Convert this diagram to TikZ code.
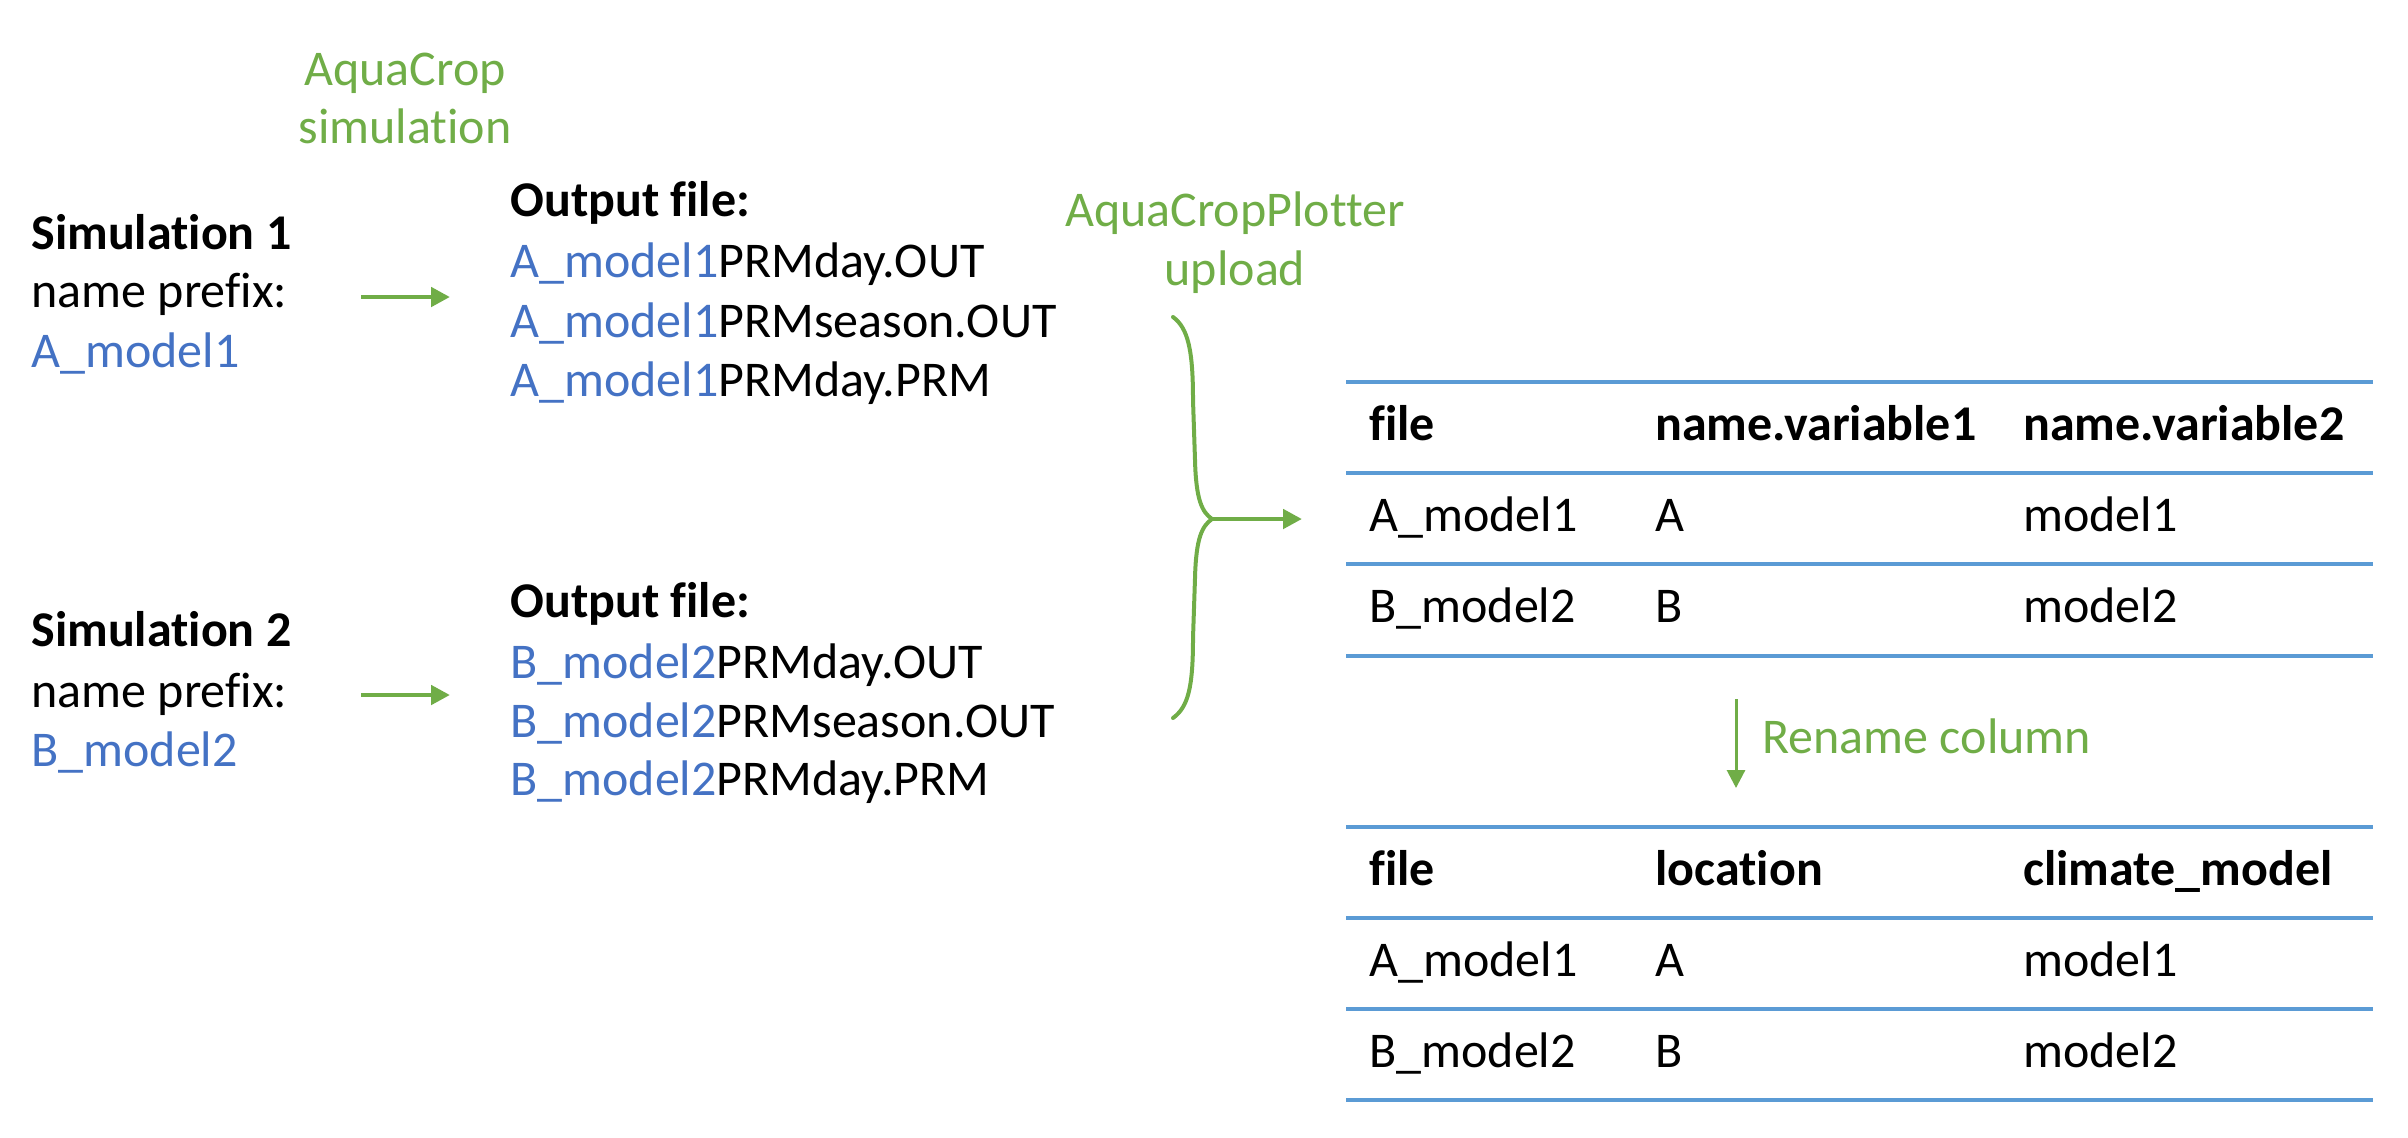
\documentclass[tikz,border=0pt]{standalone}
\usepackage{fontspec}
\setmainfont{Carlito}[Ligatures=NoCommon]
\usetikzlibrary{arrows.meta}
\definecolor{ogreen}{HTML}{70AD47}
\definecolor{oblue}{HTML}{4472C4}
\definecolor{lblue}{HTML}{5B9BD5}
\begin{document}
\begin{tikzpicture}[x=0.5pt,y=-0.5pt,
  txt/.style={anchor=base west,inner sep=0pt,font=\fontsize{25}{30}\selectfont},
  ctxt/.style={anchor=base,inner sep=0pt,font=\fontsize{25}{30}\selectfont,text=ogreen},
  bld/.style={txt,font=\fontsize{25}{30}\selectfont\bfseries},
  garrow/.style={draw=ogreen,line width=2.4pt,-{Triangle[length=9.5pt,width=9.5pt]}},
  thinarrow/.style={draw=ogreen,line width=1.5pt,-{Triangle[length=9pt,width=9pt]}},
  brace/.style={draw=ogreen,line width=2pt,line cap=round},
  rule/.style={draw=lblue,line width=1.6pt}]
\path[use as bounding box] (0,0) rectangle (2408,1137);
\newcommand{\bm}[1]{\textcolor{oblue}{#1}}
% titles
\node[ctxt] (t1a) at (405,85) {AquaCrop};
\node[ctxt] (t1b) at (405,143.5) {simulation};
\node[ctxt] (t2a) at (1235,226) {AquaCropPlotter};
\node[ctxt] (t2b) at (1235,285) {upload};
% simulation 1
\node[bld] (s1a) at (31,249) {Simulation 1};
\node[txt] (s1b) at (31,307) {name prefix:};
\node[txt,text=oblue] (s1c) at (31,367) {A\_model1};
\node[bld] (o1a) at (510,216) {Output file:};
\node[txt] (o1b) at (510,277) {\bm{A\_model1}PRMday.OUT};
\node[txt] (o1c) at (510,337) {\bm{A\_model1}PRMseason.OUT};
\node[txt] (o1d) at (510,396) {\bm{A\_model1}PRMday.PRM};
% simulation 2
\node[bld] (s2a) at (31,646.5) {Simulation 2};
\node[txt] (s2b) at (31,707) {name prefix:};
\node[txt,text=oblue] (s2c) at (31,766) {B\_model2};
\node[bld] (o2a) at (510,617) {Output file:};
\node[txt] (o2b) at (510,678) {\bm{B\_model2}PRMday.OUT};
\node[txt] (o2c) at (510,737) {\bm{B\_model2}PRMseason.OUT};
\node[txt] (o2d) at (510,795.5) {\bm{B\_model2}PRMday.PRM};
% arrows
\coordinate (a1s) at (361,297); \coordinate (a1e) at (450,297);
\coordinate (a2s) at (361,695); \coordinate (a2e) at (450,695);
\draw[garrow] (a1s) -- (a1e);
\draw[garrow] (a2s) -- (a2e);
% brace
\coordinate (btop) at (1173,317);
\coordinate (bmid) at (1212,519);
\coordinate (bbot) at (1173,718);
\coordinate (bend) at (1302,519);
\draw[brace] (btop) .. controls (1188,328) and (1193,350) .. (1193,400) -- (1195,460) .. controls (1196,500) and (1202,512) .. (bmid)
  .. controls (1202,526) and (1196,538) .. (1195,578) -- (1193,638) .. controls (1193,688) and (1188,707) .. (bbot);
\draw[garrow] (bmid) -- (bend);
% table 1
\foreach \y/\n in {382/r1,473/r2,564/r3,656/r4}{
  \coordinate (\n l) at (1346,\y); \coordinate (\n r) at (2373,\y);
  \draw[rule] (\n l) -- (\n r);}
\node[bld] (h11) at (1369,440) {file};
\node[bld] (h12) at (1655,440) {name.variable1};
\node[bld] (h13) at (2023,440) {name.variable2};
\node[txt] (c11) at (1369,531) {A\_model1};
\node[txt] (c12) at (1655,531) {A};
\node[txt] (c13) at (2023,531) {model1};
\node[txt] (c21) at (1369,622.5) {B\_model2};
\node[txt] (c22) at (1655,622.5) {B};
\node[txt] (c23) at (2023,622.5) {model2};
% rename arrow
\coordinate (ds) at (1736,699); \coordinate (de) at (1736,788);
\draw[thinarrow] (ds) -- (de);
\node[txt,text=ogreen] (ren) at (1762,753) {Rename column};
% table 2
\foreach \y/\n in {827/q1,918/q2,1009/q3,1100/q4}{
  \coordinate (\n l) at (1346,\y); \coordinate (\n r) at (2373,\y);
  \draw[rule] (\n l) -- (\n r);}
\node[bld] (g11) at (1369,885.5) {file};
\node[bld] (g12) at (1655,885.5) {location};
\node[bld] (g13) at (2023,885.5) {climate\_model};
\node[txt] (d11) at (1369,976.5) {A\_model1};
\node[txt] (d12) at (1655,976.5) {A};
\node[txt] (d13) at (2023,976.5) {model1};
\node[txt] (d21) at (1369,1067.5) {B\_model2};
\node[txt] (d22) at (1655,1067.5) {B};
\node[txt] (d23) at (2023,1067.5) {model2};
\end{tikzpicture}
\end{document}
